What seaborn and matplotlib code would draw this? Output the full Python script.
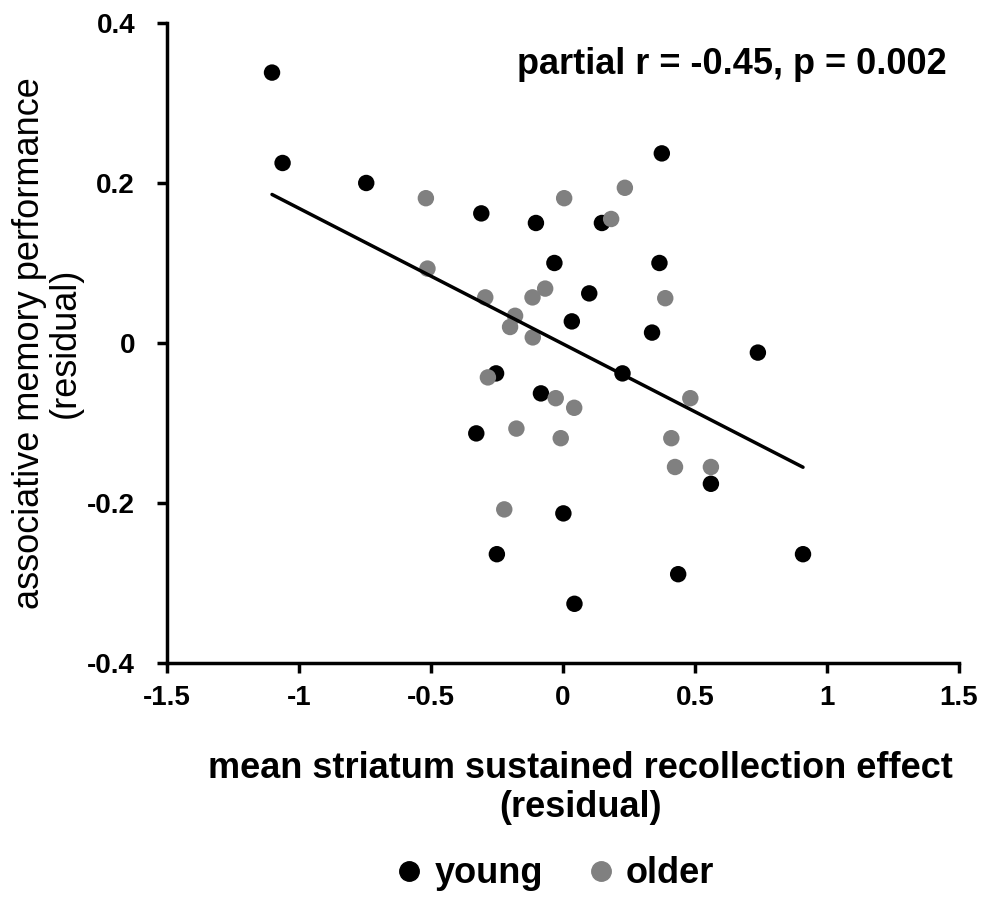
import pandas as pd
import numpy as np
import seaborn as sns
import matplotlib.pyplot as plt

# values
young_x = [-1.102, -1.062, -0.745, -0.309, -0.102, -0.032, 0.034, 0.375, 0.148, 0.366, 0.100, 0.338,
           0.739, 0.226, -0.253, -0.083, -0.328, 0.002, -0.250, 0.044, 0.561, 0.437, 0.910]
young_y = [0.338, 0.225, 0.200, 0.162, 0.150, 0.100, 0.027, 0.237, 0.150, 0.100, 0.062, 0.013,
           -0.012, -0.038, -0.038, -0.063, -0.113, -0.213, -0.264, -0.326, -0.176, -0.289, -0.264]
older_x = [-0.519, 0.005, -0.513, -0.294, -0.067, -0.115, -0.181, -0.200, -0.114, 0.235, 0.183,
           0.388, -0.284, -0.027, 0.043, 0.483, -0.176, -0.008, 0.411, 0.425, 0.561, -0.222]
older_y = [0.181, 0.181, 0.093, 0.057, 0.068, 0.057, 0.034, 0.020, 0.007, 0.194, 0.155,
           0.056, -0.043, -0.069, -0.081, -0.069, -0.107, -0.119, -0.119, -0.155, -0.155, -0.208]
groups = ['young', 'older']
x_ticks = [-1.5, -1, -0.5, 0, 0.5, 1, 1.5]
x_ticklabels = ['-1.5', '-1', '-0.5', '0', '0.5', '1', '1.5']
y_ticks = [-0.4, -0.2, 0, 0.2, 0.4]
y_ticklabels = ['-0.4', '-0.2', '0', '0.2', '0.4']

df = pd.DataFrame({
    'x': young_x + older_x,
    'y': young_y + older_y,
    'group': ['young'] * len(young_x) + ['older'] * len(older_x),
})

sns.set_style('white')
plt.rcParams['font.family'] = ['Liberation Sans', 'DejaVu Sans']
plt.rcParams['text.color'] = 'black'
plt.rcParams['axes.labelcolor'] = 'black'
plt.rcParams['xtick.color'] = 'black'
plt.rcParams['ytick.color'] = 'black'

fig = plt.figure(figsize=(9.84, 8.98), dpi=100)
ax = fig.add_axes([0.1697, 0.2617, 0.8046, 0.7127])

sns.scatterplot(data=df, x='x', y='y', hue='group', hue_order=groups,
                palette={'young': 'black', 'older': '#808080'},
                s=140, linewidth=0, ax=ax, legend=False, zorder=3)
sns.regplot(data=df, x='x', y='y', scatter=False, ci=None, truncate=True,
            line_kws={'color': 'black', 'lw': 2.5, 'zorder': 4}, ax=ax)

ax.set_xlim(-1.5, 1.5)
ax.set_ylim(-0.4, 0.4)
ax.set_xticks(x_ticks)
ax.set_xticklabels(x_ticklabels, fontsize=20, fontweight='bold')
ax.set_yticks(y_ticks)
ax.set_yticklabels(y_ticklabels, fontsize=20, fontweight='bold')
sns.despine(ax=ax)
for side in ['left', 'bottom']:
    ax.spines[side].set_linewidth(2.5)
    ax.spines[side].set_color('black')
ax.tick_params(axis='x', direction='out', length=7, width=2.5, pad=9, bottom=True)
ax.tick_params(axis='y', direction='out', length=7, width=2.5, pad=16, left=True)

ax.set_xlabel('mean striatum sustained recollection effect\n(residual)',
              fontsize=26, fontweight='bold', linespacing=1.15, va='top')
ax.xaxis.set_label_coords(0.522, -0.137)
ax.set_ylabel('associative memory performance\n(residual)',
              fontsize=26, labelpad=3, linespacing=1.05)

ax.text(0.985, 0.935, 'partial r = -0.45, p = 0.002', transform=ax.transAxes,
        ha='right', va='center', fontsize=26, fontweight='bold')

handles = [plt.Line2D([], [], marker='o', ls='', color=c, markersize=14)
           for c in ['black', '#808080']]
fig.legend(handles, groups, loc='center', bbox_to_anchor=(0.56, 0.027), ncol=2,
           frameon=False, prop={'size': 26, 'weight': 'bold'},
           handletextpad=0.1, columnspacing=1.0, handlelength=1.2)

fig.savefig('out.png', dpi=100)
